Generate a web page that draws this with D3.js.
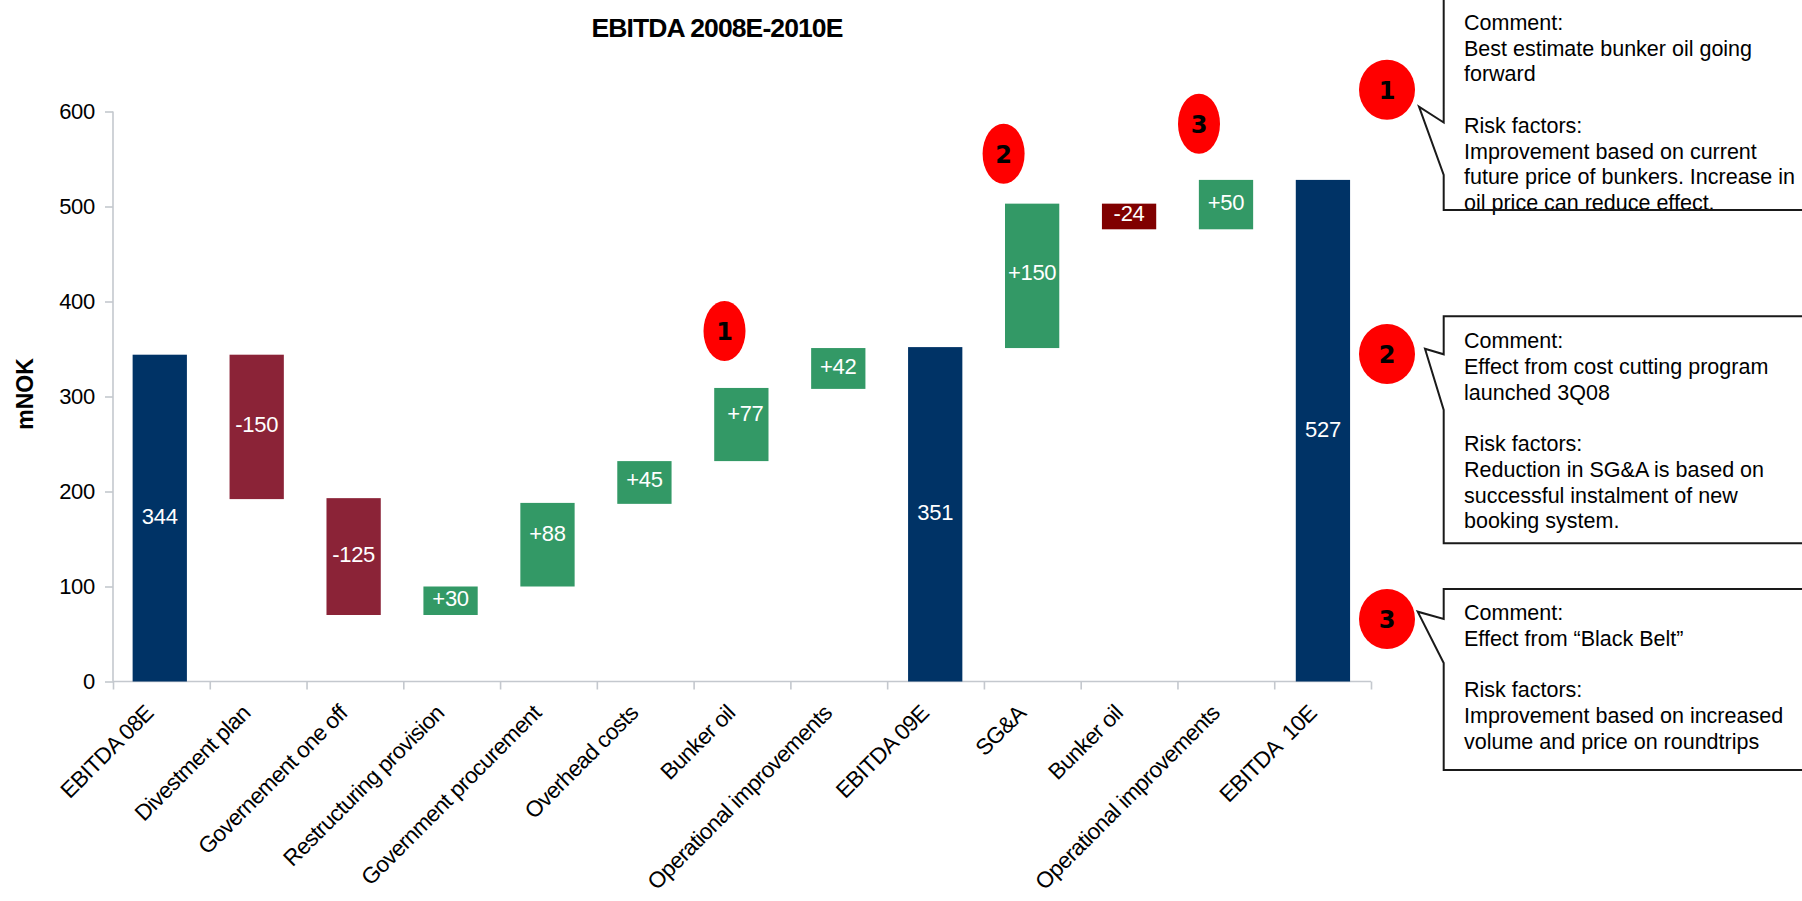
<!DOCTYPE html>
<html><head><meta charset="utf-8">
<script src="https://cdn.jsdelivr.net/npm/d3@7/dist/d3.min.js"></script>
<style>html,body{margin:0;padding:0;background:#fff;overflow:hidden}svg{display:block}text{font-family:"Liberation Sans",Arial,sans-serif}</style>
</head><body><svg id="c" width="1802" height="901"></svg>
<script>
const categories = ["EBITDA 08E","Divestment plan","Governement one off","Restructuring provision","Government procurement","Overhead costs","Bunker oil","Operational improvements","EBITDA 09E","SG&A","Bunker oil","Operational improvements","EBITDA  10E"];
const barLow  = [0,192,70,70,100,187,232,308,0,351,476,476,0];
const barHigh = [344,344,193,100,188,232,309,351,352,503,503,528,528];
const barKind = ["total","down","down","up","up","up","up","up","total","up","dark","up","total"];
const barLabels = ["344","-150","-125","+30","+88","+45","+77","+42","351","+150","-24","+50","527"];
const labelLevel = [174,271,134,88,156,213,282,332,178,431,493,504,266];
const yTicks = [0,100,200,300,400,500,600];
const title = "EBITDA 2008E-2010E";
const yTitle = "mNOK";
const palette = {total:"#003366",down:"#8B2337",up:"#339966",dark:"#800000"};
const comment1 = ["Comment:","Best estimate bunker oil going","forward","","Risk factors:","Improvement based on current","future price of bunkers. Increase in","oil price can reduce effect."];
const comment2 = ["Comment:","Effect from cost cutting program","launched 3Q08","","Risk factors:","Reduction in SG&A is based on","successful instalment of new","booking system."];
const comment3 = ["Comment:","Effect from \u201cBlack Belt\u201d","","Risk factors:","Improvement based on increased","volume and price on roundtrips"];

const svg = d3.select("#c");
const L=113,R=1371,T=111.5,B=681.5;
const x = d3.scaleBand().domain(d3.range(categories.length)).range([111.3,1371.4]).paddingInner(0.44).paddingOuter(0.22);
const y = d3.scaleLinear().domain([0,600]).range([B,T]);
const axisCol="#C4C8CE";

// y axis
const gy = svg.append("g").attr("transform",`translate(${L},0)`)
  .call(d3.axisLeft(y).tickValues(yTicks).tickSize(8).tickPadding(10).tickFormat(d3.format("d")));
gy.selectAll("path,line").attr("stroke",axisCol).attr("stroke-width",1.6);
gy.select("path").attr("d",`M0,${T}V${B}`);
gy.selectAll("text").attr("font-size",22).attr("fill","#000").attr("font-family","Liberation Sans").attr("letter-spacing",-0.3);

// x axis
const edges=d3.scaleLinear().domain([0,categories.length]).range([L,R]);
const gx = svg.append("g").attr("transform",`translate(0,${B})`)
  .call(d3.axisBottom(edges).tickValues(d3.range(categories.length+1)).tickSize(8).tickFormat(""));
gx.selectAll("path,line").attr("stroke",axisCol).attr("stroke-width",1.6);
gx.select("path").attr("d",`M${L},0H${R}`);

svg.append("g").selectAll("text").data(categories).join("text")
  .attr("text-anchor","end").attr("font-size",22.5).attr("letter-spacing",-0.6).attr("fill","#000")
  .style("white-space","pre")
  .attr("transform",(d,i)=>`translate(${x(i)+x.bandwidth()/2-5},${B+33}) rotate(-45)`)
  .text(d=>d);

// bars
svg.append("g").selectAll("rect").data(categories).join("rect")
  .attr("x",(d,i)=>x(i)).attr("width",x.bandwidth())
  .attr("y",(d,i)=>y(barHigh[i])).attr("height",(d,i)=>y(barLow[i])-y(barHigh[i]))
  .attr("fill",(d,i)=>palette[barKind[i]]);
svg.append("g").selectAll("text").data(barLabels).join("text")
  .attr("x",(d,i)=>x(i)+x.bandwidth()/2+(d==="+77"?4:0)).attr("y",(d,i)=>y(labelLevel[i]))
  .attr("dy","0.35em").attr("text-anchor","middle").attr("font-size",22).attr("letter-spacing",-0.3).attr("fill","#fff")
  .text(d=>d);

// titles
svg.append("text").attr("x",717).attr("y",36.7).attr("text-anchor","middle")
  .attr("font-size",26.5).attr("font-weight","bold").attr("letter-spacing",-0.9).text(title);
svg.append("text").attr("transform","translate(33,394) rotate(-90)").attr("text-anchor","middle")
  .attr("font-size",23).attr("font-weight","bold").text(yTitle);

// callouts
function callout(top,bottom,p1,tip,p2,lines,firstBase){
  const xl=1443.7,xr=1830;
  svg.append("g").selectAll("text").data(lines).join("text")
    .attr("x",1464).attr("y",(d,i)=>firstBase+i*25.7).attr("font-size",21.5).attr("fill","#000").text(d=>d);
  svg.append("path").attr("fill","none").attr("stroke","#1a1a1a").attr("stroke-width",2)
    .attr("d",d3.line()([[xl,top],[xl,p1],tip,[xl,p2],[xl,bottom],[xr,bottom],[xr,top]])+"Z");
}
callout(-20,210,122.5,[1419,106.7],175,comment1,30);
callout(316.3,543.3,354.3,[1425,348.7],410,comment2,348.3);
callout(589,770,619,[1417.7,611.7],663,comment3,620);

// markers
const markers=[["1",724.5,331,21],["2",1003.6,153.7,21],["3",1199,123.7,21],["1",1387,89.7,28],["2",1387,354,28],["3",1387,619,28]];
const mg=svg.append("g").selectAll("g").data(markers).join("g").attr("transform",d=>`translate(${d[1]},${d[2]})`);
mg.append("ellipse").attr("rx",d=>d[3]).attr("ry",30).attr("fill","#FF0000");
mg.append("text").attr("text-anchor","middle").attr("y",9).attr("font-size",24).attr("font-weight","bold")
  .style("font-family","'DejaVu Sans'").attr("fill","#000").text(d=>d[0]);
</script></body></html>
